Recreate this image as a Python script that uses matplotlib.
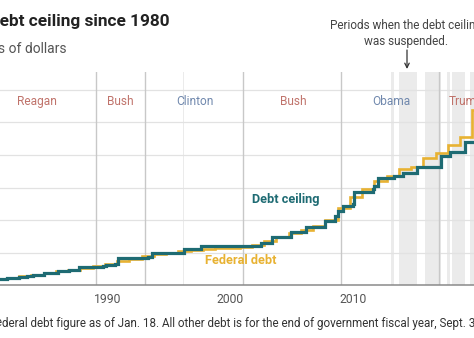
import matplotlib
matplotlib.use("Agg")
import matplotlib.pyplot as plt

plt.rcParams['font.family'] = ['Roboto', 'DejaVu Sans']

# Statutory debt limit, trillions of dollars (date the new limit took effect)
ceiling_dates = [1980.00, 1980.45, 1980.95, 1981.10, 1981.75, 1982.45, 1982.75,
                 1983.40, 1983.90, 1984.40, 1984.50, 1984.80, 1985.90, 1985.95,
                 1986.60, 1986.80, 1987.40, 1987.60, 1989.60, 1989.85, 1990.60,
                 1990.85, 1993.30, 1993.60, 1996.20, 1997.60, 2002.45, 2003.40,
                 2004.90, 2006.20, 2007.75, 2008.55, 2008.80, 2009.15, 2009.99,
                 2010.10, 2011.60, 2011.75, 2012.05, 2013.38, 2014.12, 2015.20,
                 2017.20, 2017.94, 2019.17, 2021.60, 2021.80, 2021.95, 2023.10]
ceiling_values = [0.879, 0.925, 0.935, 0.985, 1.079, 1.143, 1.290,
                  1.389, 1.490, 1.520, 1.573, 1.824, 1.904, 2.079,
                  2.111, 2.300, 2.320, 2.800, 2.870, 3.123, 3.195,
                  4.145, 4.370, 4.900, 5.500, 5.950, 6.400, 7.384,
                  8.184, 8.965, 9.815, 10.615, 11.315, 12.104, 12.394,
                  14.294, 14.694, 15.194, 16.394, 16.699, 17.212, 18.113,
                  19.809, 20.456, 22.030, 28.401, 28.881, 31.381, 31.381]

# Federal debt at the end of each fiscal year (Sept. 30), trillions of dollars
debt_years = [1980, 1981, 1982, 1983, 1984, 1985, 1986, 1987, 1988, 1989,
              1990, 1991, 1992, 1993, 1994, 1995, 1996, 1997, 1998, 1999,
              2000, 2001, 2002, 2003, 2004, 2005, 2006, 2007, 2008, 2009,
              2010, 2011, 2012, 2013, 2014, 2015, 2016, 2017, 2018, 2019,
              2020, 2021, 2022]
debt_values = [0.908, 0.998, 1.142, 1.377, 1.572, 1.823, 2.125, 2.350, 2.602, 2.857,
               3.233, 3.665, 4.065, 4.411, 4.693, 4.974, 5.225, 5.413, 5.526, 5.656,
               5.674, 5.807, 6.228, 6.783, 7.379, 7.933, 8.507, 9.008, 10.025, 11.910,
               13.562, 14.790, 16.066, 16.738, 17.824, 18.151, 19.573, 20.245, 21.516, 22.719,
               26.945, 28.429, 30.929]

# Periods when the debt limit was suspended or temporarily exempted
suspension_start = [1996.12, 2013.09, 2013.79, 2014.12, 2015.84, 2017.69, 2018.11, 2019.58]
suspension_end = [1996.22, 2013.38, 2014.10, 2015.20, 2017.20, 2017.94, 2019.17, 2021.58]

# Presidential terms
term_starts = [1989.05, 1993.05, 2001.05, 2009.05, 2017.05]
presidents = ["Reagan", "Bush", "Clinton", "Bush", "Obama", "Trump"]
president_x = [1984.2, 1991.0, 1997.1, 2005.1, 2013.1, 2017.83]
president_party = ["R", "R", "D", "R", "D", "R"]

decade_ticks = [1990, 2000, 2010]

TEAL = "#1e6b73"
GOLD = "#e8b232"
PARTY_COLOR = {"R": "#c0736b", "D": "#7088ad"}

W, H = 474, 338
fig = plt.figure(figsize=(W / 100, H / 100), dpi=100)
fig.patch.set_facecolor("white")

px_per_year = 12.25
x_left = 1990 - 108 / px_per_year
x_right = x_left + W / px_per_year
top_px, base_px = 72, 285
px_per_trillion = 6.5

ax = fig.add_axes([0, (H - base_px) / H, 1, (base_px - top_px) / H])
ax.set_xlim(x_left, x_right)
ax.set_ylim(0, (base_px - top_px) / px_per_trillion)
for s in ax.spines.values():
    s.set_visible(False)

for a, b in zip(suspension_start, suspension_end):
    ax.axvspan(a, b, color="#ebebeb", lw=0, zorder=0)

for v in [5, 10, 15, 20, 25, 30]:
    ax.axhline(v, color="#e2e2e2", lw=0.9, zorder=0.5)

for t in term_starts:
    ax.axvline(t, color="#c8c8c8", lw=1.0, zorder=1)

ax.axhline(0, color="#8a8a8a", lw=1.1, zorder=5, clip_on=False)

# Each fiscal year's closing debt is drawn across the fiscal year leading up to Sept. 30
debt_dates = [y + 0.75 for y in debt_years]
ax.step(debt_dates, debt_values, where="pre", color=GOLD, lw=1.9, zorder=3,
        solid_joinstyle="miter")
ax.step(ceiling_dates, ceiling_values, where="post", color=TEAL, lw=2.3, zorder=4,
        solid_joinstyle="miter")

ax.set_xticks(decade_ticks)
ax.set_xticklabels([str(d) for d in decade_ticks])
ax.tick_params(axis="x", length=0, pad=6, labelsize=8.7, labelcolor="#555555")
ax.set_yticks([])

label_y = (base_px - 102) / px_per_trillion
for name, xc, party in zip(presidents, president_x, president_party):
    ha = "left" if name == "Trump" else "center"
    ax.text(xc, label_y, name, ha=ha, va="center", fontsize=8.6,
            color=PARTY_COLOR[party], zorder=6)

ax.text(x_left + 252 / px_per_year, (base_px - 199) / px_per_trillion, "Debt ceiling",
        ha="left", va="center", fontsize=9.2, fontweight="bold", color=TEAL, zorder=6)
ax.text(x_left + 205 / px_per_year, (base_px - 261) / px_per_trillion, "Federal debt",
        ha="left", va="center", fontsize=9.2, fontweight="bold", color=GOLD, zorder=6)

# Header
fig.text(170 / W, 1 - 26 / H, "The debt ceiling since 1980", ha="right", va="baseline",
         fontsize=12.4, fontweight="bold", color="#222222")
fig.text(67 / W, 1 - 53 / H, "Trillions of dollars", ha="right", va="baseline",
         fontsize=10, color="#555555")

# Suspension callout
fig.text(406 / W, 1 - 29 / H, "Periods when the debt ceiling", ha="center", va="baseline",
         fontsize=8.5, color="#444444")
fig.text(406 / W, 1 - 44.5 / H, "was suspended.", ha="center", va="baseline",
         fontsize=8.5, color="#444444")
ax.annotate("", xy=(407 / W, 1 - 69 / H), xytext=(407 / W, 1 - 50 / H),
            xycoords="figure fraction", textcoords="figure fraction",
            arrowprops=dict(arrowstyle="->", color="#333333", lw=0.9,
                            shrinkA=0, shrinkB=0, mutation_scale=8))

# Footnote
fig.text(2 / W, 1 - 326.5 / H, "Note: Fe", ha="right", va="baseline",
         fontsize=8.4, color="#333333")
fig.text(2 / W, 1 - 326.5 / H,
         "deral debt figure as of Jan. 18. All other debt is for the end of "
         "government fiscal year, Sept. 30.",
         ha="left", va="baseline", fontsize=8.4, color="#333333")

fig.savefig("out.png", dpi=100, facecolor="white")
